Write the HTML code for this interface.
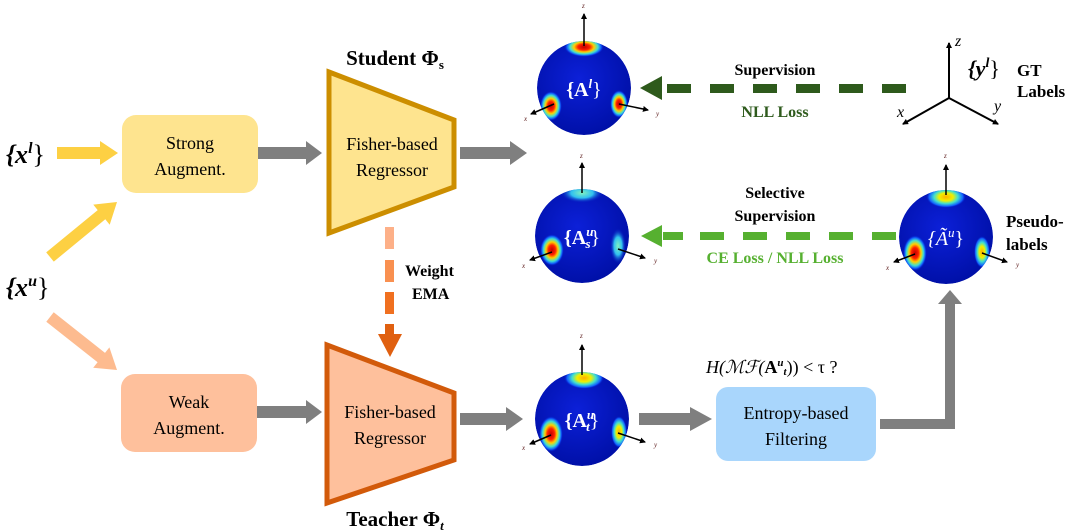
<!DOCTYPE html>
<html><head><meta charset="utf-8"><style>
html,body{margin:0;padding:0;background:#fff;width:1080px;height:532px;overflow:hidden}
svg{display:block}
text{font-family:"Liberation Serif",serif}
</style></head><body>
<svg width="1080" height="532" viewBox="0 0 1080 532" xmlns="http://www.w3.org/2000/svg">
<defs>
<radialGradient id="hot" cx="50%" cy="50%" r="50%">
<stop offset="0" stop-color="#c00000"/><stop offset="0.3" stop-color="#ff2000"/><stop offset="0.5" stop-color="#ffd000"/><stop offset="0.7" stop-color="#40e0d0"/><stop offset="0.85" stop-color="#1060ff"/><stop offset="1" stop-color="#0010c0" stop-opacity="0"/>
</radialGradient>
<radialGradient id="warm" cx="50%" cy="50%" r="50%">
<stop offset="0" stop-color="#ffb000"/><stop offset="0.35" stop-color="#f0f000"/><stop offset="0.6" stop-color="#40e0d0"/><stop offset="0.85" stop-color="#1060ff"/><stop offset="1" stop-color="#0010c0" stop-opacity="0"/>
</radialGradient>
<radialGradient id="cool" cx="50%" cy="50%" r="50%">
<stop offset="0" stop-color="#80f0c0"/><stop offset="0.5" stop-color="#30c0f0"/><stop offset="1" stop-color="#0010c0" stop-opacity="0"/>
</radialGradient>
<radialGradient id="ball" cx="45%" cy="40%" r="60%">
<stop offset="0" stop-color="#0c20d8"/><stop offset="1" stop-color="#0010a8"/>
</radialGradient>
<clipPath id="c1"><circle cx="584" cy="88" r="47"/></clipPath>
<clipPath id="c2"><circle cx="582" cy="236" r="47"/></clipPath>
<clipPath id="c3"><circle cx="582" cy="419" r="47"/></clipPath>
<clipPath id="c4"><circle cx="946" cy="237" r="47"/></clipPath>
<marker id="ak" markerWidth="6" markerHeight="6" refX="5" refY="3" orient="auto" markerUnits="userSpaceOnUse"><path d="M0,0L6,3L0,6z" fill="#000"/></marker>
</defs>

<!-- inputs -->
<text x="6" y="163" font-size="26" font-style="italic" font-weight="bold">{x<tspan font-size="16" dy="-10">l</tspan><tspan dy="10" font-style="normal" font-weight="normal">}</tspan></text>
<text x="6" y="296" font-size="26" font-style="italic" font-weight="bold">{x<tspan font-size="16" dy="-10">u</tspan><tspan dy="10" font-style="normal" font-weight="normal">}</tspan></text>

<polygon points="57,147 100,147 100,141 118,153 100,165 100,159 57,159" fill="#fdd043"/>
<polygon points="53.8,261.6 105.3,219.3 109.7,224.8 117,202 93.3,204.6 97.7,210.1 46.2,252.4" fill="#fdd043"/>
<polygon points="46.3,321.7 97.6,362.3 93.2,367.8 117,370 109.4,347.4 105,352.9 53.7,312.3" fill="#fdbb8f"/>

<!-- boxes -->
<rect x="122" y="115" width="136" height="78" rx="14" fill="#fee48f"/>
<text x="190" y="149" font-size="18" text-anchor="middle">Strong</text>
<text x="190" y="175" font-size="18" text-anchor="middle">Augment.</text>
<rect x="121" y="374" width="136" height="78" rx="14" fill="#fec09c"/>
<text x="189" y="408" font-size="18" text-anchor="middle">Weak</text>
<text x="189" y="434" font-size="18" text-anchor="middle">Augment.</text>

<!-- gray arrows to regressors -->
<polygon points="258,147 306,147 306,141 322,153 306,165 306,159 258,159" fill="#7f7f7f"/>
<polygon points="257,406 306,406 306,400 322,412 306,424 306,418 257,418" fill="#7f7f7f"/>

<!-- student -->
<polygon points="329,72 454,120 454,187 329,233" fill="#fee48f" stroke="#cc8e00" stroke-width="5"/>
<text x="392" y="150" font-size="18" text-anchor="middle">Fisher-based</text>
<text x="392" y="176" font-size="18" text-anchor="middle">Regressor</text>
<text x="395" y="65" font-size="21" font-weight="bold" text-anchor="middle">Student <tspan>Φ</tspan><tspan font-size="13" dy="4">s</tspan></text>

<!-- teacher -->
<polygon points="327,345 454,393 454,460 327,503" fill="#fec09c" stroke="#d25a0a" stroke-width="5"/>
<text x="390" y="418" font-size="18" text-anchor="middle">Fisher-based</text>
<text x="390" y="444" font-size="18" text-anchor="middle">Regressor</text>
<text x="395" y="526" font-size="21" font-weight="bold" text-anchor="middle">Teacher <tspan>Φ</tspan><tspan font-size="13" dy="4" font-style="italic">t</tspan></text>

<!-- EMA dashed -->
<rect x="385" y="227" width="9" height="22" fill="#fdb088"/>
<rect x="385" y="260" width="9" height="22" fill="#f99050"/>
<rect x="385" y="292" width="9" height="22" fill="#f07020"/>
<rect x="385" y="324" width="9" height="10" fill="#e06010"/>
<polygon points="378,334 402,334 390,357" fill="#e06010"/>
<text x="405" y="276" font-size="16" font-weight="bold">Weight</text>
<text x="412" y="299" font-size="16" font-weight="bold">EMA</text>

<!-- gray out arrows -->
<polygon points="460,147 510,147 510,141 527,153 510,165 510,159 460,159" fill="#7f7f7f"/>
<polygon points="460,413 506,413 506,407 523,419 506,431 506,425 460,425" fill="#7f7f7f"/>
<polygon points="639,413 690,413 690,407 712,419 690,431 690,425 639,425" fill="#7f7f7f"/>
<polyline points="880,424 950,424 950,302" fill="none" stroke="#7f7f7f" stroke-width="10"/>
<polygon points="938,304 962,304 950,290" fill="#7f7f7f"/>

<!-- entropy -->
<rect x="716" y="387" width="160" height="74" rx="12" fill="#a9d6fc"/>
<text x="796" y="419" font-size="18" text-anchor="middle">Entropy-based</text>
<text x="796" y="445" font-size="18" text-anchor="middle">Filtering</text>
<text x="706" y="373" font-size="18" font-style="italic">H(ℳℱ(<tspan font-weight="bold" font-style="normal">A</tspan><tspan font-size="11" dy="-7" font-weight="bold">u</tspan><tspan font-size="11" dy="9" font-weight="bold">t</tspan><tspan dy="-2" font-style="normal">))  &lt;  τ ?</tspan></text>

<!-- supervision arrows -->
<polygon points="640,88 662,76 662,100" fill="#2e5a1c"/>
<g fill="#2e5a1c"><rect x="667" y="84" width="24" height="9"/><rect x="710" y="84" width="24" height="9"/><rect x="753" y="84" width="24" height="9"/><rect x="796" y="84" width="24" height="9"/><rect x="839" y="84" width="24" height="9"/><rect x="882" y="84" width="24" height="9"/></g>
<text x="775" y="75" font-size="16" font-weight="bold" text-anchor="middle">Supervision</text>
<text x="775" y="117" font-size="16" font-weight="bold" fill="#2e5a1c" text-anchor="middle">NLL Loss</text>

<polygon points="641,236 662,225 662,247" fill="#56b030"/>
<g fill="#56b030"><rect x="663" y="232" width="20" height="8"/><rect x="700" y="232" width="24" height="8"/><rect x="743" y="232" width="24" height="8"/><rect x="786" y="232" width="24" height="8"/><rect x="829" y="232" width="24" height="8"/><rect x="872" y="232" width="24" height="8"/></g>
<text x="775" y="198" font-size="16" font-weight="bold" text-anchor="middle">Selective</text>
<text x="775" y="221" font-size="16" font-weight="bold" text-anchor="middle">Supervision</text>
<text x="775" y="263" font-size="16" font-weight="bold" fill="#56b030" text-anchor="middle">CE Loss / NLL Loss</text>

<!-- GT axes -->
<g stroke="#000" stroke-width="2" marker-end="url(#ak)">
<line x1="949" y1="98" x2="949" y2="43"/>
<line x1="949" y1="98" x2="903" y2="124"/>
<line x1="949" y1="98" x2="998" y2="124"/>
</g>
<text x="955" y="46" font-size="16" font-style="italic">z</text>
<text x="897" y="117" font-size="16" font-style="italic">x</text>
<text x="994" y="111" font-size="16" font-style="italic">y</text>
<text x="968" y="76" font-size="22" font-style="italic" font-weight="bold">{y<tspan font-size="14" dy="-9">l</tspan><tspan dy="9" font-style="normal" font-weight="normal">}</tspan></text>
<text x="1017" y="76" font-size="17" font-weight="bold">GT</text>
<text x="1017" y="97" font-size="17" font-weight="bold">Labels</text>
<text x="1006" y="227" font-size="17" font-weight="bold">Pseudo-</text>
<text x="1006" y="250" font-size="17" font-weight="bold">labels</text>

<!-- spheres -->
<g clip-path="url(#c1)"><circle cx="584" cy="88" r="47" fill="url(#ball)"/>
<ellipse cx="584" cy="47" rx="20" ry="10" fill="url(#hot)"/><ellipse cx="551" cy="106" rx="11" ry="15" fill="url(#hot)"/><ellipse cx="619" cy="104" rx="9" ry="14" fill="url(#hot)"/></g>
<g clip-path="url(#c2)"><circle cx="582" cy="236" r="47" fill="url(#ball)"/>
<ellipse cx="582" cy="193" rx="22" ry="10" fill="url(#cool)"/><ellipse cx="552" cy="250" rx="12" ry="16" fill="url(#hot)"/><ellipse cx="618" cy="246" rx="8" ry="18" fill="url(#cool)"/></g>
<g clip-path="url(#c3)"><circle cx="582" cy="419" r="47" fill="url(#ball)"/>
<ellipse cx="584" cy="378" rx="20" ry="11" fill="url(#warm)"/><ellipse cx="551" cy="434" rx="12" ry="18" fill="url(#hot)"/><ellipse cx="619" cy="432" rx="8" ry="16" fill="url(#warm)"/></g>
<g clip-path="url(#c4)"><circle cx="946" cy="237" r="47" fill="url(#ball)"/>
<ellipse cx="946" cy="197" rx="20" ry="11" fill="url(#warm)"/><ellipse cx="915" cy="253" rx="12" ry="18" fill="url(#hot)"/><ellipse cx="982" cy="252" rx="8" ry="16" fill="url(#warm)"/></g>

<g stroke="#000" stroke-width="1.5" marker-end="url(#ak)">
<line x1="584" y1="46" x2="584" y2="14"/><line x1="554" y1="104" x2="531" y2="114"/><line x1="619" y1="104" x2="648" y2="110"/>
<line x1="582" y1="193" x2="582" y2="163"/><line x1="552" y1="252" x2="530" y2="260"/><line x1="618" y1="249" x2="645" y2="258"/>
<line x1="582" y1="375" x2="582" y2="345"/><line x1="551" y1="435" x2="530" y2="444"/><line x1="618" y1="433" x2="645" y2="442"/>
<line x1="946" y1="195" x2="946" y2="165"/><line x1="915" y1="254" x2="894" y2="262"/><line x1="982" y1="253" x2="1007" y2="262"/>
</g>
<g font-size="7" font-style="italic" fill="#602020">
<text x="582" y="8">z</text><text x="524" y="121">x</text><text x="656" y="116">y</text>
<text x="580" y="158">z</text><text x="522" y="268">x</text><text x="654" y="263">y</text>
<text x="580" y="338">z</text><text x="522" y="450">x</text><text x="654" y="447">y</text>
<text x="944" y="158">z</text><text x="886" y="270">x</text><text x="1016" y="267">y</text>
</g>
<g fill="#fff" font-weight="bold" text-anchor="middle">
<text x="584" y="96" font-size="20">{A<tspan font-size="13" dy="-8" font-style="italic">l</tspan><tspan dy="8" font-weight="normal">}</tspan></text>
<text x="582" y="244" font-size="20">{A<tspan font-size="13" dy="-8" font-style="italic">u</tspan><tspan font-size="13" dx="-8" dy="12" font-style="italic">s</tspan><tspan dy="-4" font-weight="normal">}</tspan></text>
<text x="582" y="427" font-size="20">{A<tspan font-size="13" dy="-8" font-style="italic">u</tspan><tspan font-size="13" dx="-8" dy="12" font-style="italic">t</tspan><tspan dy="-4" font-weight="normal">}</tspan></text>
<text x="946" y="245" font-size="20" font-style="italic" font-weight="normal">{Ã<tspan font-size="13" dy="-8">u</tspan><tspan dy="8" font-style="normal">}</tspan></text>
</g>
</svg>
</body></html>
